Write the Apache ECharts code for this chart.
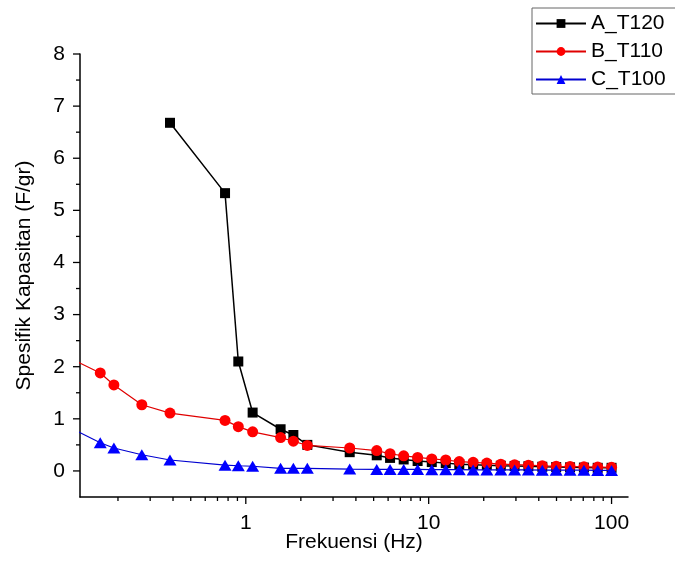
<!DOCTYPE html>
<html>
<head>
<meta charset="utf-8">
<script src="https://cdn.jsdelivr.net/npm/echarts@6/dist/echarts.min.js"></script>
<style>html,body{margin:0;padding:0;background:#fff;}#c{width:675px;height:565px;}</style>
</head>
<body>
<div id="c"></div>
<script>
// ---- data ----
const seriesNames = ['A_T120', 'B_T110', 'C_T100'];
const freqA = [0.385, 0.77, 0.91, 1.09, 1.55, 1.82, 2.17, 3.7, 5.2, 6.15, 7.3, 8.7, 10.4, 12.4, 14.7, 17.5, 20.8, 24.8, 29.5, 35.1, 41.8, 49.8, 59.3, 70.6, 84, 100];
const valA  = [6.68, 5.33, 2.10, 1.12, 0.80, 0.69, 0.50, 0.36, 0.30, 0.25, 0.22, 0.19, 0.17, 0.15, 0.13, 0.12, 0.11, 0.10, 0.095, 0.09, 0.08, 0.075, 0.07, 0.065, 0.06, 0.06];
const freqBC = [0.1, 0.16, 0.19, 0.27, 0.385, 0.77, 0.91, 1.09, 1.55, 1.82, 2.17, 3.7, 5.2, 6.15, 7.3, 8.7, 10.4, 12.4, 14.7, 17.5, 20.8, 24.8, 29.5, 35.1, 41.8, 49.8, 59.3, 70.6, 84, 100];
const valB  = [2.23, 1.88, 1.65, 1.27, 1.11, 0.97, 0.85, 0.75, 0.64, 0.57, 0.49, 0.44, 0.39, 0.33, 0.29, 0.26, 0.23, 0.21, 0.18, 0.165, 0.15, 0.13, 0.12, 0.11, 0.10, 0.09, 0.085, 0.08, 0.075, 0.07];
const valC  = [0.90, 0.54, 0.44, 0.31, 0.21, 0.11, 0.10, 0.09, 0.05, 0.05, 0.05, 0.035, 0.03, 0.03, 0.03, 0.03, 0.025, 0.025, 0.025, 0.02, 0.02, 0.02, 0.02, 0.02, 0.015, 0.015, 0.015, 0.015, 0.01, 0.01];
const xMin = 0.124, xMax = 123;
const yMin = -0.5, yMax = 8;
const xMajorTicks = [1, 10, 100];
const xMinorTicks = [0.2, 0.3, 0.4, 0.5, 0.6, 0.7, 0.8, 0.9, 2, 3, 4, 5, 6, 7, 8, 9, 20, 30, 40, 50, 60, 70, 80, 90];
const yMajorTicks = [0, 1, 2, 3, 4, 5, 6, 7, 8];
const yMinorTicks = [0.5, 1.5, 2.5, 3.5, 4.5, 5.5, 6.5, 7.5];

const FONT = 'Liberation Sans, Arial, sans-serif';
const zip = (xs, ys) => xs.map((x, i) => [x, ys[i]]);

function tickSeries(data, dir, len, w) {
  return {
    type: 'custom', silent: true, clip: false, z: 5,
    data: data,
    renderItem: function (params, api) {
      const p = api.coord([api.value(0), api.value(1)]);
      const shape = dir === 'x'
        ? { x1: p[0], y1: p[1], x2: p[0], y2: p[1] + len }
        : { x1: p[0] - len, y1: p[1], x2: p[0], y2: p[1] };
      return { type: 'line', shape: shape, style: { stroke: '#000', lineWidth: w } };
    }
  };
}

const chart = echarts.init(document.getElementById('c'), null, { renderer: 'canvas' });
chart.setOption({
  animation: false,
  backgroundColor: '#fff',
  textStyle: { fontFamily: FONT },
  grid: { left: 80, top: 54, width: 548, height: 443, containLabel: false },
  legend: {
    data: seriesNames,
    orient: 'vertical',
    left: 532, top: 8,
    itemWidth: 50, itemHeight: 11, itemGap: 7,
    padding: [5, 10, 4, 3],
    borderColor: '#666', borderWidth: 1,
    backgroundColor: '#fff',
    textStyle: { fontFamily: FONT, fontSize: 21, color: '#000' }
  },
  xAxis: {
    type: 'log', logBase: 10, min: xMin, max: xMax,
    name: 'Frekuensi (Hz)', nameLocation: 'middle', nameGap: 35, nameMoveOverlap: false,
    nameTextStyle: { fontFamily: FONT, fontSize: 21, color: '#000', verticalAlign: 'top' },
    axisLine: { onZero: false, lineStyle: { color: '#000', width: 1.5 } },
    axisTick: { show: false },
    splitLine: { show: false },
    axisLabel: {
      margin: 16, fontFamily: FONT, fontSize: 21, color: '#000',
      showMinLabel: true, showMaxLabel: true,
      formatter: function (v) {
        const l = Math.log10(v);
        return Math.abs(l - Math.round(l)) < 1e-6 && xMajorTicks.indexOf(Math.round(v)) >= 0 ? String(Math.round(v)) : '';
      }
    }
  },
  yAxis: {
    type: 'value', min: yMin, max: yMax, interval: 0.5,
    name: 'Spesifik Kapasitan (F/gr)', nameLocation: 'middle', nameGap: 45, nameMoveOverlap: false,
    nameTextStyle: { fontFamily: FONT, fontSize: 21, color: '#000' },
    axisLine: { show: true, lineStyle: { color: '#000', width: 1.5 } },
    axisTick: { show: false },
    splitLine: { show: false },
    axisLabel: {
      margin: 15, fontFamily: FONT, fontSize: 21, color: '#000',
      formatter: function (v) { return yMajorTicks.indexOf(v) >= 0 ? String(v) : ''; }
    }
  },
  series: [
    {
      name: seriesNames[0], type: 'line', data: zip(freqA, valA),
      symbol: 'rect', symbolSize: 10, z: 2,
      itemStyle: { color: '#000' }, lineStyle: { color: '#000', width: 1.5 }
    },
    {
      name: seriesNames[1], type: 'line', data: zip(freqBC, valB),
      symbol: 'circle', symbolSize: 11, z: 3,
      itemStyle: { color: '#ff0000' }, lineStyle: { color: '#e00000', width: 1.2 }
    },
    {
      name: seriesNames[2], type: 'line', data: zip(freqBC, valC),
      symbol: 'triangle', symbolSize: [13, 11], z: 4,
      itemStyle: { color: '#0000ff' }, lineStyle: { color: '#0000d0', width: 1.2 }
    },
    tickSeries(xMajorTicks.map(v => [v, yMin]), 'x', 7, 1.3),
    tickSeries(xMinorTicks.map(v => [v, yMin]), 'x', 4, 1.3),
    tickSeries(yMajorTicks.map(v => [xMin, v]), 'y', 7, 1.3),
    tickSeries(yMinorTicks.map(v => [xMin, v]), 'y', 4, 1.3)
  ]
});
</script>
</body>
</html>
